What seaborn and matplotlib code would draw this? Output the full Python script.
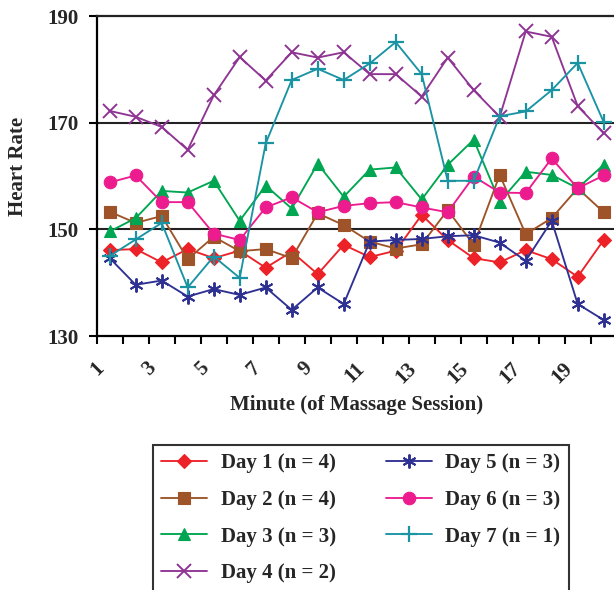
import pandas as pd
import seaborn as sns
import matplotlib.pyplot as plt
from matplotlib.transforms import ScaledTranslation

# values
minutes = list(range(1, 21))
day1 = [146.1, 146.3, 143.8, 146.3, 144.6, 146.0, 142.8, 145.8, 141.6, 147.1,
        144.8, 146.0, 152.7, 148.0, 144.6, 143.8, 146.1, 144.4, 141.1, 148.0]
day2 = [153.3, 151.2, 152.5, 144.4, 148.6, 145.9, 146.3, 144.6, 153.0, 150.8,
        147.7, 146.4, 147.2, 153.6, 147.1, 160.2, 149.1, 152.1, 157.7, 153.2]
day3 = [149.6, 152.1, 157.2, 156.9, 159.1, 151.6, 158.2, 153.9, 162.3, 156.1,
        161.2, 161.6, 155.6, 162.1, 166.8, 155.2, 160.8, 160.2, 157.7, 162.1]
day4 = [172.2, 171.1, 169.2, 164.9, 175.1, 182.3, 177.9, 183.2, 182.2, 183.2,
        179.1, 179.1, 174.9, 182.2, 176.1, 171.1, 187.1, 186.1, 173.1, 168.0]
day5 = [144.6, 139.6, 140.4, 137.4, 138.8, 137.7, 139.1, 134.9, 139.1, 136.0,
        147.7, 148.0, 148.2, 148.7, 148.9, 147.5, 144.1, 151.6, 136.0, 133.0]
day6 = [158.8, 160.1, 155.1, 155.1, 149.2, 148.0, 154.1, 156.0, 153.2, 154.4,
        154.9, 155.1, 154.1, 153.2, 159.9, 156.9, 156.8, 163.3, 157.7, 160.1]
day7 = [145.0, 148.1, 151.2, 139.1, 144.9, 140.9, 166.1, 178.0, 180.1, 178.0,
        181.1, 185.1, 179.1, 159.1, 159.1, 171.2, 172.1, 176.1, 181.2, 170.1]

labels = ['Day 1 (n = 4)', 'Day 2 (n = 4)', 'Day 3 (n = 3)', 'Day 4 (n = 2)',
          'Day 5 (n = 3)', 'Day 6 (n = 3)', 'Day 7 (n = 1)']
series = [day1, day2, day3, day4, day5, day6, day7]

rows = []
for lab, vals in zip(labels, series):
    for m, v in zip(minutes, vals):
        rows.append({'Minute': m, 'Heart Rate': v, 'Day': lab})
df = pd.DataFrame(rows)

colors = ['#ED2228', '#9E5428', '#00A651', '#8E3593', '#2E3192', '#EC1C8E', '#1A93A3']
markers = ['D', 's', '^', 'x', (6, 2, 0), 'o', '+']
msizes = [7, 8, 9, 10, 10, 9, 11]
mews = [0.8, 0.8, 0.8, 1.4, 1.4, 0.8, 1.6]

sns.set_style('white')
plt.rcParams['font.family'] = ['Liberation Serif', 'DejaVu Serif']
plt.rcParams['font.weight'] = 'bold'

fig = plt.figure(figsize=(6.14, 5.90), dpi=100)
ax = fig.add_axes([96.7 / 614, 254 / 590, 520 / 614, 320 / 590])

for lab, c, mk, ms, mw in zip(labels, colors, markers, msizes, mews):
    sub = df[df['Day'] == lab]
    sns.lineplot(data=sub, x='Minute', y='Heart Rate', ax=ax, color=c,
                 marker=mk, markersize=ms, markeredgecolor=c,
                 markeredgewidth=mw, linewidth=1.35, label=lab)

ax.set_xlim(0.5, 20.5)
ax.set_ylim(130, 190)

# tick marks on category boundaries, labels on odd minutes
ax.set_xticks([m - 0.5 for m in minutes] + [20.5])
ax.set_xticklabels([])
ax.set_xticks(minutes[::2], minor=True)
ax.set_xticklabels([str(m) for m in minutes[::2]], minor=True, rotation=45,
                   ha='right', va='top', rotation_mode='anchor', fontsize=15,
                   fontweight='bold')
ax.tick_params(axis='x', which='major', direction='out', length=6, width=1.5,
               bottom=True, color='black')
ax.tick_params(axis='x', which='minor', length=0, pad=16)
shift = ScaledTranslation(-11 / 72, 0, fig.dpi_scale_trans)
for t in ax.get_xticklabels(minor=True):
    t.set_transform(t.get_transform() + shift)

ax.set_yticks([130, 150, 170, 190])
ax.set_yticklabels(['130', '150', '170', '190'], fontsize=15, fontweight='bold')
ax.tick_params(axis='y', direction='out', length=6, width=1.5, left=True,
               pad=7, color='black')

for y in [150, 170]:
    ax.axhline(y, color='#222222', linewidth=1.5, zorder=0)

for side in ['left', 'bottom', 'top']:
    ax.spines[side].set_visible(True)
    ax.spines[side].set_color('black')
    ax.spines[side].set_linewidth(1.6)
ax.spines['top'].set_color('#222222')
ax.spines['right'].set_visible(False)

ax.set_xlabel('Minute (of Massage Session)', fontsize=15, fontweight='bold')
ax.xaxis.set_label_coords(0.5, -0.184)
ax.set_ylabel('Heart Rate', fontsize=15, fontweight='bold')
ax.yaxis.set_label_coords(-0.132, 0.53)

leg = ax.legend(ncol=2, loc='upper left', bbox_to_anchor=(153 / 614, 145 / 590),
                bbox_transform=fig.transFigure, fontsize=15, frameon=True,
                fancybox=False, edgecolor='black', handlelength=2.2,
                handletextpad=0.65, columnspacing=2.4, labelspacing=0.8,
                borderpad=0.4, borderaxespad=0)
leg.get_frame().set_linewidth(1.5)
for t in leg.get_texts():
    t.set_fontweight('bold')

fig.savefig('out.png', dpi=100)
